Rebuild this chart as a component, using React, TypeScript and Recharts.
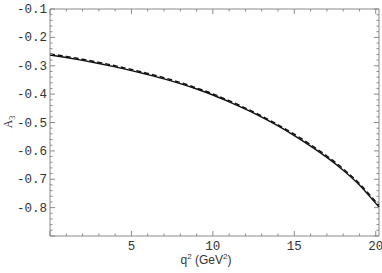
import React from 'react';
import { LineChart, Line, XAxis, YAxis, ReferenceArea } from 'recharts';

const Q2 = [0, 1, 2, 3, 4, 5, 6, 7, 8, 9, 10, 11, 12, 13, 14, 15, 16, 17, 18, 19, 20, 20.2];
const A3_SOLID = [
  -0.262, -0.271, -0.281, -0.292, -0.304, -0.317, -0.331, -0.346, -0.363, -0.382, -0.403,
  -0.427, -0.453, -0.481, -0.512, -0.546, -0.583, -0.623, -0.668, -0.72, -0.785, -0.798,
];
const A3_DASHED = [
  -0.258, -0.267, -0.277, -0.288, -0.3, -0.313, -0.327, -0.342, -0.359, -0.378, -0.399,
  -0.423, -0.449, -0.477, -0.508, -0.541, -0.578, -0.618, -0.663, -0.715, -0.779, -0.792,
];

const X_TICKS = [0, 1, 2, 3, 4, 5, 6, 7, 8, 9, 10, 11, 12, 13, 14, 15, 16, 17, 18, 19, 20];
const X_LABELS = [5, 10, 15, 20];
const Y_MAJOR = [-0.9, -0.8, -0.7, -0.6, -0.5, -0.4, -0.3, -0.2, -0.1];
const Y_LABELS = [-0.8, -0.7, -0.6, -0.5, -0.4, -0.3, -0.2, -0.1];

// minor ticks every 0.02 between the majors
const Y_TICKS: number[] = [];
for (let i = 0; i <= 40; i++) Y_TICKS.push(Number((-0.9 + i * 0.02).toFixed(2)));

const data = Q2.map((q, i) => ({ q, solid: A3_SOLID[i], dashed: A3_DASHED[i] }));

const W = 382;
const H = 273;
const TOP = 9;
const BOTTOM = 236;
const LEFT = 50;
const RIGHT = 379;
const FRAME = '#8a8a8a';
const MONO = '"Liberation Mono", "Courier New", monospace';

const XTick = ({ x, payload }: any) => {
  const v = payload.value;
  const major = v % 5 === 0;
  const len = major ? 5 : 2.5;
  return (
    <g>
      <line x1={x} x2={x} y1={BOTTOM} y2={BOTTOM - len} stroke={FRAME} />
      <line x1={x} x2={x} y1={TOP} y2={TOP + len} stroke={FRAME} />
      {X_LABELS.includes(v) && (
        <text x={x} y={249.5} textAnchor="middle" fontFamily={MONO} fontSize={12.5} fill="#333">
          {v}
        </text>
      )}
    </g>
  );
};

const YTick = ({ y, payload }: any) => {
  const v = payload.value;
  const major = Y_MAJOR.some((m) => Math.abs(m - v) < 1e-6);
  const len = major ? 5 : 2.5;
  const label = Y_LABELS.some((m) => Math.abs(m - v) < 1e-6);
  return (
    <g>
      <line x1={LEFT} x2={LEFT + len} y1={y} y2={y} stroke={FRAME} />
      <line x1={RIGHT} x2={RIGHT - len} y1={y} y2={y} stroke={FRAME} />
      {label && (
        <text x={47} y={y + 4} textAnchor="end" fontFamily={MONO} fontSize={12.5} fill="#333">
          {v.toFixed(1)}
        </text>
      )}
    </g>
  );
};

const App: React.FC = () => {
  return (
    <div style={{ position: 'absolute', left: 0, top: 0, width: W, height: H, background: '#fff' }}>
      <LineChart width={W} height={H} data={data} margin={{ top: TOP, right: W - RIGHT, left: 0, bottom: 0 }}>
        <XAxis
          dataKey="q"
          type="number"
          domain={[0, 20.2]}
          ticks={X_TICKS}
          interval={0}
          height={H - BOTTOM}
          axisLine={false}
          tickLine={false}
          tick={<XTick />}
        />
        <YAxis
          type="number"
          domain={[-0.9, -0.1]}
          ticks={Y_TICKS}
          interval={0}
          width={LEFT}
          axisLine={false}
          tickLine={false}
          tick={<YTick />}
        />
        <ReferenceArea x1={0} x2={20.2} y1={-0.9} y2={-0.1} fill="none" stroke={FRAME} strokeWidth={1} />
        <Line type="monotone" dataKey="solid" stroke="#111" strokeWidth={1.4} dot={false} isAnimationActive={false} />
        <Line
          type="monotone"
          dataKey="dashed"
          stroke="#111"
          strokeWidth={1.4}
          strokeDasharray="5 3"
          dot={false}
          isAnimationActive={false}
        />
        <text x={206} y={264} textAnchor="middle" fontFamily='"Liberation Sans", Arial, sans-serif' fontSize={12} fill="#333">
          q<tspan dy={-5} fontSize={8}>2</tspan>
          <tspan dy={5}> (GeV</tspan>
          <tspan dy={-5} fontSize={8}>2</tspan>
          <tspan dy={5}>)</tspan>
        </text>
        <text
          transform="translate(12, 122) rotate(-90)"
          textAnchor="middle"
          fontFamily='"Liberation Serif", serif'
          fontSize={12}
          fill="#333"
        >
          A<tspan dy={3} fontSize={8}>3</tspan>
        </text>
      </LineChart>
    </div>
  );
};

export default App;
